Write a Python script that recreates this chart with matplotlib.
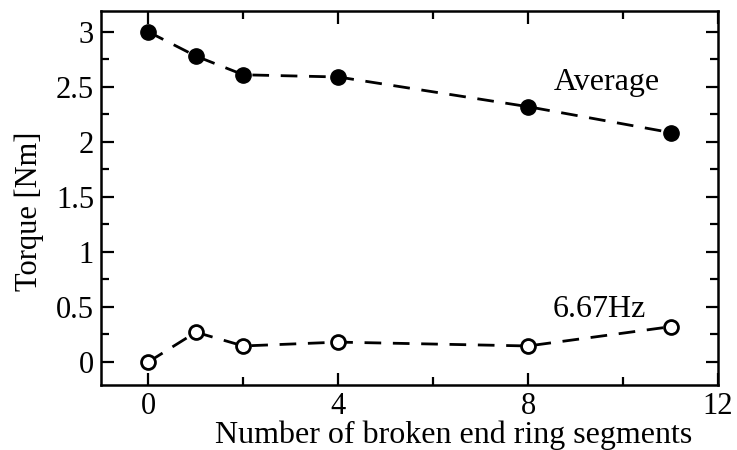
import matplotlib
matplotlib.use("Agg")
import matplotlib.pyplot as plt
from matplotlib.ticker import MultipleLocator

x = [0, 1, 2, 4, 8, 11]
average = [3.0, 2.78, 2.61, 2.59, 2.32, 2.085]
hz667 = [0.0, 0.27, 0.145, 0.18, 0.145, 0.32]

plt.rcParams['font.family'] = ['Liberation Serif', 'DejaVu Serif']

fig = plt.figure(figsize=(7.37, 4.5), dpi=100)
ax = fig.add_axes([0.1370, 0.1444, 0.9742 - 0.1370, 0.9756 - 0.1444])

dash = (6, 4.2)
ax.plot(x, average, color='black', lw=2.0, linestyle=(0, dash), marker='o',
        markersize=11, markerfacecolor='black', markeredgecolor='black')
ax.plot(x, hz667, color='black', lw=2.0, linestyle=(0, dash), marker='o',
        markersize=10, markerfacecolor='white', markeredgecolor='black', markeredgewidth=2.0)

fs = 22
ax.text(9.66, 2.54, 'Average', fontsize=23, ha='center', va='center')
ax.text(9.5, 0.48, '6.67Hz', fontsize=23, ha='center', va='center')

ax.set_xlim(-1, 12)
ax.set_ylim(-0.21, 3.19)
ax.xaxis.set_major_locator(MultipleLocator(4))
ax.xaxis.set_minor_locator(MultipleLocator(2))
ax.yaxis.set_major_locator(MultipleLocator(0.5))
ax.yaxis.set_minor_locator(MultipleLocator(0.25))
ax.set_yticks([0, 0.5, 1, 1.5, 2, 2.5, 3])
ax.set_yticklabels(['0', '0.5', '1', '1.5', '2', '2.5', '3'])

ax.tick_params(which='both', direction='in', top=True, right=True, width=1.6, labelsize=fs)
ax.tick_params(which='major', length=9, pad=5)
ax.tick_params(which='minor', length=6)
for s in ax.spines.values():
    s.set_linewidth(1.8)

ax.set_xlabel('Number of broken end ring segments', fontsize=23)
ax.xaxis.set_label_coords(0.571, -0.094)
ax.set_ylabel('Torque [Nm]', fontsize=fs)
ax.yaxis.set_label_coords(-0.093, 0.465)

fig.savefig('out.png', dpi=100)
